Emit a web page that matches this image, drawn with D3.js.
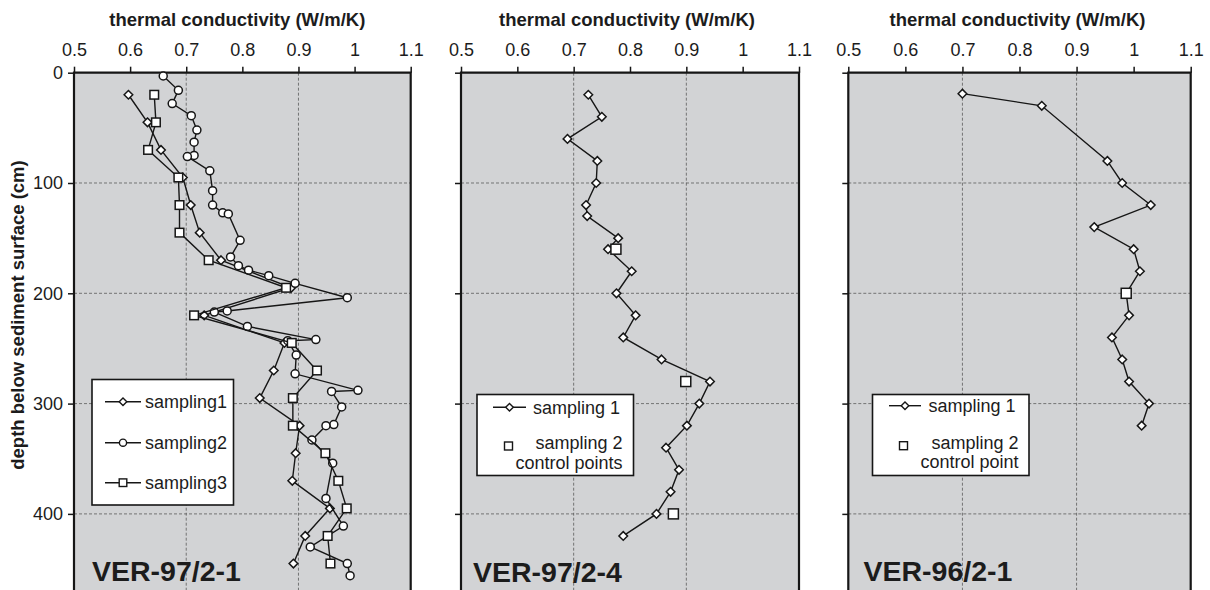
<!DOCTYPE html>
<html><head><meta charset="utf-8">
<script src="https://cdn.jsdelivr.net/npm/d3@7"></script>
<style>
body{margin:0;background:#fff}
svg{display:block}
text{font-family:"Liberation Sans",Arial,sans-serif;fill:#1c1c1c}
</style>
</head><body>
<svg id="chart" width="1210" height="590"></svg>
<script>
// ---- axis ticks ----
const xTicks = [0.5, 0.6, 0.7, 0.8, 0.9, 1.0, 1.1];
const xTickLabels = ["0.5", "0.6", "0.7", "0.8", "0.9", "1", "1.1"];
const yTicks = [0, 100, 200, 300, 400];
const xGrid = [0.7, 0.9];
const yGrid = [100, 200, 300, 400];
const xTitle = "thermal conductivity (W/m/K)";
const yTitle = "depth below sediment surface (cm)";

// ---- panel 1: VER-97/2-1 ----
const p1Depth13 = [20,45,70,95,120,145,170,195,220,245,270,295,320,345,370,395,420,445];
const p1Sampling1 = [0.597,0.631,0.655,0.694,0.708,0.724,0.762,0.887,0.732,0.875,0.856,0.831,0.902,0.895,0.889,0.956,0.912,0.891];
const p1Sampling3 = [0.643,0.646,0.632,0.686,0.688,0.688,0.740,0.878,0.714,0.888,0.933,0.890,0.890,0.948,0.971,0.986,0.952,0.957];
const p1Depth2 = [3,16,28,39,52,63,75,76,89,107,120,127,128,152,167,175,179,184,191,204,216,217,230,242,243,256,273,288,289,303,319,320,333,354,386,411,430,445,456];
const p1Sampling2 = [0.659,0.686,0.675,0.709,0.719,0.714,0.714,0.702,0.742,0.747,0.747,0.765,0.775,0.796,0.779,0.793,0.811,0.847,0.894,0.987,0.773,0.750,0.809,0.931,0.881,0.896,0.894,1.006,0.959,0.977,0.963,0.949,0.924,0.961,0.949,0.980,0.921,0.987,0.992];

// ---- panel 2: VER-97/2-4 ----
const p2Depth = [20,40,60,80,100,120,130,150,160,180,200,220,240,260,280,300,320,340,360,380,400,420];
const p2Sampling1 = [0.726,0.750,0.689,0.742,0.740,0.722,0.724,0.779,0.761,0.803,0.776,0.810,0.788,0.856,0.942,0.923,0.901,0.864,0.887,0.872,0.847,0.788];
const p2CtrlDepth = [160, 280, 400];
const p2Ctrl = [0.775, 0.899, 0.877];

// ---- panel 3: VER-96/2-1 ----
const p3Depth = [19,30,80,100,120,140,160,180,200,220,240,260,280,300,320];
const p3Sampling1 = [0.700,0.839,0.954,0.980,1.030,0.931,1.000,1.011,0.987,0.992,0.962,0.980,0.992,1.027,1.014];
const p3CtrlDepth = [200];
const p3Ctrl = [0.987];

const zip = (vals, deps) => vals.map((v, i) => ({v, d: deps[i]}));

const panels = [
  {x0: 74, x1: 410.7, name: "VER-97/2-1", nameX: 92, nameY: 580.5, yLabels: true, titleShift: -5,
   series: [
     {data: zip(p1Sampling1, p1Depth13), line: true, marker: "diamond", r: 4.3},
     {data: zip(p1Sampling2, p1Depth2), line: true, marker: "circle", r: 4},
     {data: zip(p1Sampling3, p1Depth13), line: true, marker: "square", r: 4.3}
   ],
   legend: {x: 92, y: 379.5, w: 141.5, h: 125.5,
     items: [
       {marker: "diamond", line: true, lx0: 105, lx1: 141, ly: 401.7, text: ["sampling1"], tx: 145, anchor: "start", ty: [401.7]},
       {marker: "circle", line: true, lx0: 105, lx1: 141, ly: 442.7, text: ["sampling2"], tx: 145, anchor: "start", ty: [442.7]},
       {marker: "square", line: true, lx0: 105, lx1: 141, ly: 482.7, text: ["sampling3"], tx: 145, anchor: "start", ty: [482.7]}
     ]}},
  {x0: 461, x1: 799, name: "VER-97/2-4", nameX: 473, nameY: 581.5, yLabels: false, titleShift: -3,
   series: [
     {data: zip(p2Sampling1, p2Depth), line: true, marker: "diamond", r: 4.3},
     {data: zip(p2Ctrl, p2CtrlDepth), line: false, marker: "square", r: 5}
   ],
   legend: {x: 477, y: 394.5, w: 156.5, h: 81,
     items: [
       {marker: "diamond", line: true, lx0: 493, lx1: 526, ly: 407.3, text: ["sampling 1"], tx: 533, anchor: "start", ty: [407.3]},
       {marker: "square", line: false, mx: 508.5, ly: 446, text: ["sampling 2", "control points"], tx: 622.5, anchor: "end", ty: [442.5, 462.7]}
     ]}},
  {x0: 848.3, x1: 1190.7, name: "VER-96/2-1", nameX: 863.5, nameY: 580.5, yLabels: false, titleShift: -2,
   series: [
     {data: zip(p3Sampling1, p3Depth), line: true, marker: "diamond", r: 4.3},
     {data: zip(p3Ctrl, p3CtrlDepth), line: false, marker: "square", r: 5}
   ],
   legend: {x: 872.5, y: 394.5, w: 156.5, h: 81,
     items: [
       {marker: "diamond", line: true, lx0: 889, lx1: 921, ly: 405.7, text: ["sampling 1"], tx: 928.5, anchor: "start", ty: [405.7]},
       {marker: "square", line: false, mx: 903.5, ly: 445.7, text: ["sampling 2", "control point"], tx: 1018.5, anchor: "end", ty: [442.3, 461.7]}
     ]}}
];

const svg = d3.select("#chart");
const yTop = 72.7, yBot = 590;
const y = d3.scaleLinear().domain([0, 469]).range([yTop, yBot]);
const INK = "#161616";
const BG = "#d2d3d5";

function drawMarker(g, type, cx, cy, r, sw) {
  let el;
  if (type === "circle") {
    el = g.append("circle").attr("cx", cx).attr("cy", cy).attr("r", r);
  } else if (type === "square") {
    el = g.append("rect").attr("x", cx - r).attr("y", cy - r).attr("width", 2 * r).attr("height", 2 * r);
  } else {
    el = g.append("path").attr("d", `M${cx},${cy - r}L${cx + r},${cy}L${cx},${cy + r}L${cx - r},${cy}Z`);
  }
  el.attr("fill", "#fff").attr("stroke", INK).attr("stroke-width", sw);
}

panels.forEach(p => {
  const x = d3.scaleLinear().domain([0.5, 1.1]).range([p.x0, p.x1]);
  const g = svg.append("g");

  // background
  g.append("rect").attr("x", p.x0).attr("y", yTop).attr("width", p.x1 - p.x0).attr("height", yBot - yTop).attr("fill", BG);

  // grid
  g.selectAll(".vg").data(xGrid).join("line")
    .attr("x1", d => x(d)).attr("x2", d => x(d)).attr("y1", yTop).attr("y2", yBot)
    .attr("stroke", "#5a5a5a").attr("stroke-width", 0.8).attr("stroke-dasharray", "3,2");
  g.selectAll(".hg").data(yGrid).join("line")
    .attr("x1", p.x0).attr("x2", p.x1).attr("y1", d => y(d)).attr("y2", d => y(d))
    .attr("stroke", "#5a5a5a").attr("stroke-width", 0.8).attr("stroke-dasharray", "3,2");

  // axes
  const ax = g.append("g").attr("transform", `translate(0,${yTop})`)
    .call(d3.axisTop(x).tickValues(xTicks).tickFormat((d, i) => xTickLabels[i]).tickSize(6).tickSizeOuter(0).tickPadding(11));
  ax.select(".domain").remove();
  ax.selectAll(".tick line").attr("stroke", INK).attr("stroke-width", 1.5);
  ax.selectAll(".tick text").attr("font-size", 18).attr("font-family", '"Liberation Sans",Arial,sans-serif').attr("fill", "#1c1c1c");

  const ay = g.append("g").attr("transform", `translate(${p.x0},0)`)
    .call(d3.axisLeft(y).tickValues(yTicks).tickFormat(p.yLabels ? d3.format("d") : () => "").tickSize(6).tickSizeOuter(0).tickPadding(5));
  ay.select(".domain").remove();
  ay.selectAll(".tick line").attr("stroke", INK).attr("stroke-width", 1.5);
  ay.selectAll(".tick text").attr("font-size", 18).attr("font-family", '"Liberation Sans",Arial,sans-serif').attr("fill", "#1c1c1c");

  // frame (left, top, right)
  g.append("path")
    .attr("d", `M${p.x0},${yBot}L${p.x0},${yTop}L${p.x1},${yTop}L${p.x1},${yBot}`)
    .attr("fill", "none").attr("stroke", INK).attr("stroke-width", 2.2);

  // series
  const line = d3.line().x(d => x(d.v)).y(d => y(d.d));
  p.series.forEach(s => {
    if (s.line) {
      g.append("path").datum(s.data).attr("d", line)
        .attr("fill", "none").attr("stroke", INK).attr("stroke-width", 1.4);
    }
    s.data.forEach(d => drawMarker(g, s.marker, x(d.v), y(d.d), s.r, 1.5));
  });

  // legend
  const L = p.legend;
  g.append("rect").attr("x", L.x).attr("y", L.y).attr("width", L.w).attr("height", L.h)
    .attr("fill", "#fff").attr("stroke", INK).attr("stroke-width", 1.6);
  L.items.forEach(it => {
    if (it.line) {
      g.append("line").attr("x1", it.lx0).attr("x2", it.lx1).attr("y1", it.ly).attr("y2", it.ly)
        .attr("stroke", INK).attr("stroke-width", 1.4);
      drawMarker(g, it.marker, (it.lx0 + it.lx1) / 2, it.ly, it.marker === "circle" ? 3.6 : 3.8, 1.4);
    } else {
      drawMarker(g, it.marker, it.mx, it.ly, 4, 1.4);
    }
    it.text.forEach((t, k) => {
      g.append("text").attr("x", it.tx).attr("y", it.ty[k]).attr("dy", "0.35em")
        .attr("text-anchor", it.anchor).attr("font-size", 18).text(t);
    });
  });

  // panel name
  g.append("text").attr("x", p.nameX).attr("y", p.nameY)
    .attr("font-size", 28.5).attr("font-weight", "bold").text(p.name);

  // x title
  g.append("text").attr("x", (p.x0 + p.x1) / 2 + p.titleShift).attr("y", 26)
    .attr("text-anchor", "middle").attr("font-size", 18.5).attr("font-weight", "bold").text(xTitle);
});

// y title
svg.append("text").attr("transform", "translate(24,315) rotate(-90)")
  .attr("text-anchor", "middle").attr("font-size", 18.5).attr("font-weight", "bold").text(yTitle);
</script>
</body></html>
